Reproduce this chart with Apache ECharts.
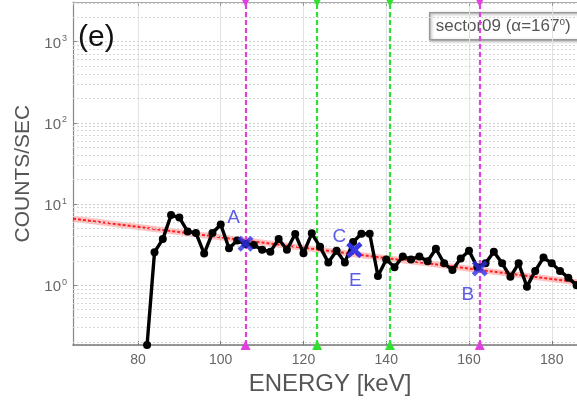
<!DOCTYPE html>
<html><head><meta charset="utf-8">
<script src="https://cdn.jsdelivr.net/npm/echarts@6/dist/echarts.min.js"></script>
<style>html,body{margin:0;padding:0;background:#fff}#c{width:577px;height:401px}</style>
</head><body><div id="c"></div>
<script>
// ---- data ----
const energyKeV = [82.2,84,86,88,90,92,94,96,98,100,102,104,106,108,110,112,114,116,118,120,122,124,126,128,130,132,134,136,138,140,142,144,146,148,150,152,154,156,158,160,162,164,166,168,170,172,174,176,178,180,182,184,186];
const countsPerSec = [0.183,2.55,3.7,7.3,6.8,4.6,4.4,2.45,4.4,5.6,2.85,3.55,3.22,3.13,2.73,2.59,3.70,2.73,4.27,2.47,4.36,2.97,1.91,2.66,1.91,3.4,4.3,4.3,1.30,2.08,1.67,2.26,2.08,2.26,1.97,2.81,1.86,1.54,2.14,2.66,1.67,1.86,2.59,1.86,1.27,1.86,0.96,1.50,2.19,1.86,1.50,1.24,1.0];
const fitKeV = [64.3, 186.1];
const fitCounts = [6.6, 1.09];
const magentaLinesKeV = [106.0, 162.6];
const greenLinesKeV = [123.3, 140.9];
const markKeV = [106.0, 132.3, 132.3, 162.6];
const markCounts = [3.25, 2.71, 2.71, 1.61];
const markLetters = ['A', 'C', 'E', 'B'];
const xTickLabels = ['80','100','120','140','160','180'];
const xRange = [64.3, 186.1];
const yRange = [0.183, 3076];
const panelTag = '(e)';
const sectorText = 'sector09 (α=167';

// minor log grid positions (2..9 x 10^k)
const minorGrid = [];
for (let k = -1; k <= 3; k++) for (let m = 2; m <= 9; m++) {
  const v = m * Math.pow(10, k);
  if (v > yRange[0] && v < yRange[1]) minorGrid.push(v);
}

const markOffsets = {A: [-12, -26], C: [-15, -13], E: [1, 31], B: [-12, 26]};
const FONT = 'Liberation Sans, Arial, sans-serif';

const chart = echarts.init(document.getElementById('c'), null, {renderer: 'canvas'});
const vline = (v, color) => ({xAxis: v, lineStyle: {color: color, type: [5, 3], width: 2.2},
  itemStyle: {color: color}});

chart.setOption({
  animation: false,
  backgroundColor: '#fff',
  grid: {left: 73, right: 0, top: 2, bottom: 44, containLabel: false},
  xAxis: [{
    type: 'value', min: xRange[0], max: xRange[1], position: 'bottom',
    axisLine: {show: true, lineStyle: {color: '#777', width: 1.5}},
    axisTick: {show: true, inside: true, length: 4, lineStyle: {color: '#777'}},
    axisLabel: {show: true, color: '#666', fontSize: 14, margin: 8, fontFamily: FONT,
      showMinLabel: false, showMaxLabel: false,
      formatter: v => xTickLabels.includes(String(Math.round(v))) && Math.abs(v - Math.round(v)) < 1e-6 ? String(Math.round(v)) : ''},
    splitLine: {show: true, lineStyle: {color: '#e2e2e2', width: 1}},
    name: 'ENERGY [keV]', nameLocation: 'middle', nameGap: 25,
    nameTextStyle: {color: '#555', fontSize: 24, fontFamily: FONT, padding: [0, 0, 0, 10]}
  }, {
    type: 'value', min: xRange[0], max: xRange[1], position: 'top',
    axisLine: {show: true, lineStyle: {color: '#aaa', width: 1}},
    axisTick: {show: true, inside: true, length: 4, lineStyle: {color: '#999'}},
    axisLabel: {show: false}, splitLine: {show: false}
  }],
  yAxis: {
    type: 'log', logBase: 10, min: yRange[0], max: yRange[1],
    axisLine: {show: true, lineStyle: {color: '#888', width: 1.2}},
    axisTick: {show: true, inside: true, length: 4, lineStyle: {color: '#888'}},
    axisLabel: {color: '#666', fontSize: 15, margin: 6, fontFamily: FONT,
      showMinLabel: false, showMaxLabel: false, padding: [4, 0, 0, 0],
      formatter: v => '10{s|' + Math.round(Math.log10(v)) + '}',
      rich: {s: {fontSize: 9, color: '#666', verticalAlign: 'top', padding: [0, 0, 10, 1]}}},
    splitLine: {show: true, lineStyle: {color: '#cfcfcf', type: [2, 2], width: 1}},
    name: 'COUNTS/SEC', nameLocation: 'middle', nameGap: 37, nameRotate: 90,
    nameTextStyle: {color: '#555', fontSize: 21, fontFamily: FONT}
  },
  graphic: [
    {type: 'text', left: 78, top: 23, z: 20,
      style: {text: panelTag, fontSize: 30, fill: '#111', fontFamily: FONT}},
    {type: 'group', left: 429, top: 12, z: 20, children: [
      {type: 'rect', shape: {x: 0, y: 0, width: 170, height: 27},
        style: {fill: '#fff', stroke: '#999', lineWidth: 1.5, shadowBlur: 3, shadowColor: 'rgba(0,0,0,0.35)', shadowOffsetX: 1, shadowOffsetY: 1}},
      {type: 'text', x: 6, y: 14,
        style: {text: sectorText + '{s|o})', fontSize: 17, fill: '#555', verticalAlign: 'middle',
          fontFamily: FONT,
          rich: {s: {fontSize: 10, fill: '#555', verticalAlign: 'top', padding: [0, 0, 9, 0]}}}}
    ]}
  ],
  series: [
    {
      name: 'minorgrid', type: 'line', data: [], silent: true, z: 0,
      markLine: {silent: true, symbol: 'none', label: {show: false}, animation: false,
        lineStyle: {color: '#d6d6d6', type: [2, 2], width: 1},
        data: minorGrid.map(v => ({yAxis: v}))}
    },
    {
      name: 'fitglow', type: 'line', silent: true, z: 2, symbol: 'none',
      data: fitKeV.map((x, i) => [x, fitCounts[i]]),
      lineStyle: {color: 'rgba(255,80,80,0.35)', width: 6}
    },
    {
      name: 'fit', type: 'line', silent: true, z: 3, symbol: 'none',
      data: fitKeV.map((x, i) => [x, fitCounts[i]]),
      lineStyle: {color: '#ff2020', width: 2, type: [3, 2]}
    },
    {
      name: 'counts', type: 'line', z: 5, symbol: 'circle', symbolSize: 8,
      data: energyKeV.map((x, i) => [x, countsPerSec[i]]),
      itemStyle: {color: '#000'}, lineStyle: {color: '#000', width: 3.4}
    },
    {
      name: 'lines', type: 'line', data: [], z: 4,
      markLine: {silent: true, animation: false, symbol: ['triangle', 'triangle'], symbolSize: 10,
        symbolRotate: [0, 180],
        label: {show: false},
        data: magentaLinesKeV.map(v => vline(v, '#e040e0')).concat(greenLinesKeV.map(v => vline(v, '#30e030')))}
    },
    {
      name: 'marks', type: 'scatter', z: 6,
      symbol: 'path://M0 2L2 0L5 3L8 0L10 2L7 5L10 8L8 10L5 7L2 10L0 8L3 5Z', symbolSize: 16,
      itemStyle: {color: '#3232e6'},
      data: markKeV.map((x, i) => ({value: [x, markCounts[i]],
        label: {show: true, formatter: markLetters[i], position: 'inside', offset: markOffsets[markLetters[i]],
          color: '#3434e2', fontSize: 19, fontFamily: FONT}}))
    }
  ]
});
</script></body></html>
